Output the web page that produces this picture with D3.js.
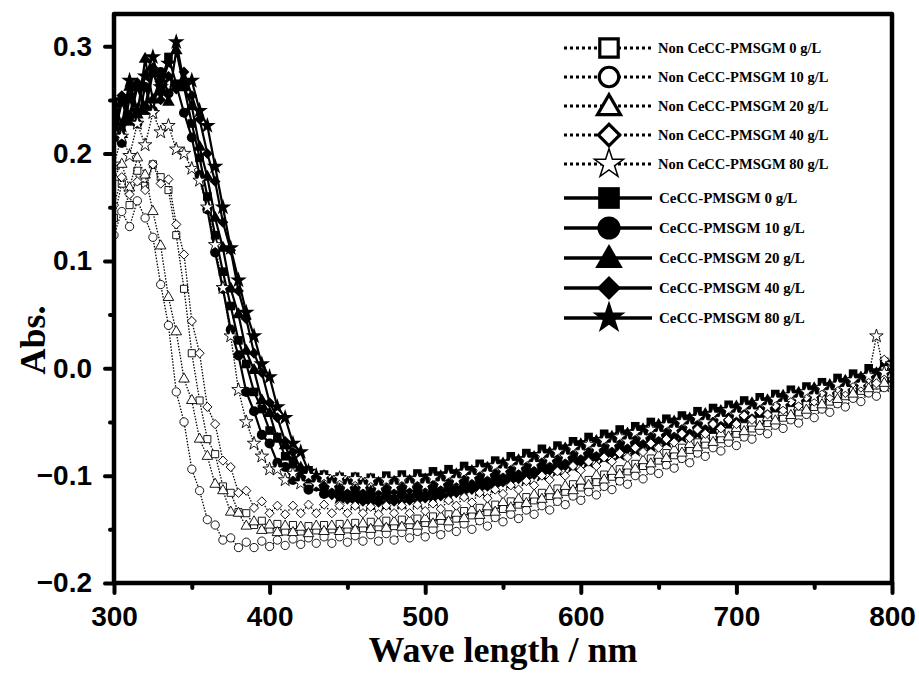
<!DOCTYPE html>
<html lang="en">
<head>
<meta charset="UTF-8">
<title>Abs. vs wave length</title>
<style>
  body { margin: 0; background: #fff; }
  svg { display: block; }
  .tick text { font-family: "Liberation Sans", Arial, sans-serif; font-weight: bold; font-size: 28px; fill: #000; }
  .title { font-family: "Liberation Serif", "Times New Roman", serif; font-weight: bold; font-size: 36px; }
  .leg { font-family: "Liberation Serif", "Times New Roman", serif; font-weight: bold; }
</style>
</head>
<body>
<div id="chart"></div>
<script src="https://cdnjs.cloudflare.com/ajax/libs/d3/7.8.5/d3.min.js"></script>
<script>
// wavelength grid (nm)
const wavelength = [
  300,305,310,315,320,325,330,335,340,345,
  350,355,360,365,370,375,380,385,390,395,
  400,405,410,415,420,425,430,435,440,445,
  450,455,460,465,470,475,480,485,490,495,
  500,505,510,515,520,525,530,535,540,545,
  550,555,560,565,570,575,580,585,590,595,
  600,605,610,615,620,625,630,635,640,645,
  650,655,660,665,670,675,680,685,690,695,
  700,705,710,715,720,725,730,735,740,745,
  750,755,760,765,770,775,780,785,790,795,
  800
];

// CeCC-PMSGM (filled symbols, solid lines)
const cecc0 = [
  0.215,0.248,0.230,0.262,0.240,0.275,0.258,0.290,0.265,0.262,
  0.228,0.196,0.160,0.124,0.090,0.058,0.026,0.004,-0.022,-0.038,
  -0.058,-0.064,-0.082,-0.086,-0.098,-0.095,-0.104,-0.099,-0.106,-0.101,
  -0.107,-0.101,-0.108,-0.102,-0.106,-0.100,-0.105,-0.099,-0.104,-0.098,
  -0.102,-0.096,-0.100,-0.094,-0.098,-0.091,-0.095,-0.089,-0.092,-0.086,
  -0.089,-0.082,-0.086,-0.079,-0.082,-0.075,-0.079,-0.072,-0.075,-0.068,
  -0.071,-0.064,-0.068,-0.061,-0.064,-0.057,-0.061,-0.054,-0.057,-0.050,
  -0.054,-0.047,-0.050,-0.044,-0.047,-0.040,-0.044,-0.037,-0.040,-0.034,
  -0.037,-0.030,-0.034,-0.027,-0.031,-0.024,-0.027,-0.020,-0.024,-0.017,
  -0.020,-0.013,-0.017,-0.009,-0.013,-0.005,-0.009,0.000,-0.004,0.006,
  0.004
];
const cecc10 = [
  0.232,0.210,0.252,0.228,0.262,0.240,0.276,0.256,0.264,0.238,
  0.215,0.180,0.148,0.108,0.074,0.036,0.012,-0.022,-0.040,-0.062,
  -0.070,-0.088,-0.092,-0.104,-0.104,-0.113,-0.110,-0.117,-0.113,-0.119,
  -0.114,-0.120,-0.115,-0.121,-0.114,-0.119,-0.113,-0.118,-0.112,-0.117,
  -0.110,-0.115,-0.108,-0.112,-0.105,-0.110,-0.103,-0.107,-0.100,-0.104,
  -0.096,-0.100,-0.093,-0.097,-0.089,-0.093,-0.085,-0.089,-0.082,-0.085,
  -0.077,-0.081,-0.074,-0.077,-0.070,-0.073,-0.066,-0.070,-0.062,-0.066,
  -0.058,-0.062,-0.055,-0.058,-0.051,-0.055,-0.048,-0.051,-0.044,-0.047,
  -0.041,-0.044,-0.037,-0.040,-0.034,-0.037,-0.030,-0.033,-0.027,-0.030,
  -0.023,-0.026,-0.019,-0.022,-0.016,-0.018,-0.012,-0.015,-0.008,-0.011,
  -0.005
];
const cecc20 = [
  0.246,0.218,0.262,0.236,0.288,0.250,0.270,0.248,0.296,0.262,
  0.244,0.206,0.178,0.140,0.112,0.074,0.050,0.016,-0.002,-0.030,
  -0.042,-0.066,-0.072,-0.090,-0.093,-0.104,-0.102,-0.111,-0.106,-0.113,
  -0.107,-0.114,-0.108,-0.115,-0.107,-0.113,-0.106,-0.112,-0.105,-0.111,
  -0.104,-0.109,-0.101,-0.106,-0.099,-0.103,-0.096,-0.100,-0.093,-0.097,
  -0.089,-0.094,-0.086,-0.090,-0.083,-0.086,-0.079,-0.083,-0.075,-0.079,
  -0.071,-0.075,-0.068,-0.071,-0.064,-0.068,-0.061,-0.064,-0.057,-0.060,
  -0.053,-0.056,-0.050,-0.053,-0.047,-0.049,-0.043,-0.046,-0.040,-0.042,
  -0.036,-0.039,-0.033,-0.035,-0.030,-0.032,-0.026,-0.029,-0.023,-0.025,
  -0.019,-0.022,-0.016,-0.018,-0.012,-0.015,-0.009,-0.011,-0.005,-0.008,
  0.000
];
const cecc40 = [
  0.224,0.254,0.236,0.266,0.244,0.280,0.250,0.272,0.260,0.276,
  0.254,0.232,0.200,0.174,0.136,0.110,0.072,0.046,0.014,-0.004,
  -0.032,-0.046,-0.068,-0.078,-0.094,-0.098,-0.110,-0.110,-0.118,-0.116,
  -0.122,-0.117,-0.124,-0.118,-0.125,-0.119,-0.124,-0.118,-0.123,-0.117,
  -0.121,-0.115,-0.119,-0.112,-0.116,-0.109,-0.113,-0.106,-0.110,-0.103,
  -0.106,-0.099,-0.103,-0.096,-0.099,-0.092,-0.095,-0.088,-0.091,-0.084,
  -0.087,-0.080,-0.083,-0.076,-0.079,-0.072,-0.075,-0.068,-0.071,-0.064,
  -0.067,-0.061,-0.063,-0.057,-0.059,-0.053,-0.056,-0.049,-0.052,-0.046,
  -0.048,-0.042,-0.045,-0.039,-0.041,-0.035,-0.038,-0.031,-0.034,-0.028,
  -0.030,-0.024,-0.027,-0.020,-0.023,-0.017,-0.019,-0.012,-0.015,-0.008,
  -0.006
];
const cecc80 = [
  0.250,0.226,0.268,0.240,0.272,0.290,0.262,0.284,0.304,0.266,
  0.268,0.240,0.226,0.188,0.150,0.112,0.082,0.052,0.030,0.004,
  -0.008,-0.036,-0.046,-0.070,-0.078,-0.096,-0.100,-0.112,-0.112,-0.120,
  -0.119,-0.125,-0.120,-0.126,-0.121,-0.126,-0.120,-0.125,-0.119,-0.124,
  -0.117,-0.122,-0.115,-0.119,-0.112,-0.116,-0.109,-0.113,-0.106,-0.110,
  -0.102,-0.106,-0.099,-0.103,-0.095,-0.099,-0.092,-0.095,-0.088,-0.091,
  -0.084,-0.087,-0.080,-0.083,-0.076,-0.080,-0.073,-0.076,-0.069,-0.072,
  -0.065,-0.068,-0.062,-0.064,-0.058,-0.061,-0.054,-0.057,-0.051,-0.053,
  -0.047,-0.049,-0.043,-0.046,-0.040,-0.042,-0.036,-0.039,-0.033,-0.035,
  -0.029,-0.031,-0.025,-0.028,-0.022,-0.024,-0.018,-0.020,-0.014,-0.016,
  -0.010
];

// Non CeCC-PMSGM (open symbols, dotted lines)
const non0 = [
  0.140,0.172,0.152,0.184,0.170,0.190,0.178,0.166,0.124,0.074,
  0.014,-0.030,-0.066,-0.080,-0.110,-0.116,-0.134,-0.135,-0.146,-0.142,
  -0.150,-0.145,-0.152,-0.146,-0.152,-0.147,-0.151,-0.146,-0.150,-0.145,
  -0.150,-0.144,-0.149,-0.143,-0.148,-0.142,-0.147,-0.141,-0.146,-0.140,
  -0.144,-0.138,-0.142,-0.136,-0.140,-0.133,-0.137,-0.130,-0.134,-0.127,
  -0.131,-0.124,-0.127,-0.120,-0.123,-0.116,-0.119,-0.112,-0.115,-0.108,
  -0.111,-0.104,-0.106,-0.099,-0.101,-0.094,-0.096,-0.089,-0.091,-0.084,
  -0.086,-0.079,-0.081,-0.074,-0.076,-0.069,-0.071,-0.064,-0.066,-0.059,
  -0.061,-0.054,-0.056,-0.049,-0.051,-0.044,-0.046,-0.039,-0.041,-0.034,
  -0.036,-0.029,-0.031,-0.024,-0.026,-0.019,-0.021,-0.014,-0.016,-0.009,
  -0.008
];
const non10 = [
  0.124,0.146,0.132,0.156,0.140,0.122,0.078,0.040,-0.022,-0.050,
  -0.094,-0.114,-0.141,-0.146,-0.160,-0.158,-0.167,-0.162,-0.167,-0.161,
  -0.166,-0.160,-0.165,-0.159,-0.164,-0.158,-0.163,-0.157,-0.163,-0.157,
  -0.162,-0.156,-0.161,-0.155,-0.161,-0.154,-0.160,-0.153,-0.158,-0.152,
  -0.157,-0.150,-0.155,-0.148,-0.152,-0.145,-0.150,-0.142,-0.147,-0.139,
  -0.143,-0.136,-0.140,-0.132,-0.136,-0.128,-0.132,-0.124,-0.127,-0.119,
  -0.123,-0.115,-0.118,-0.110,-0.113,-0.105,-0.108,-0.100,-0.103,-0.095,
  -0.098,-0.090,-0.093,-0.084,-0.088,-0.079,-0.082,-0.074,-0.077,-0.069,
  -0.072,-0.064,-0.066,-0.058,-0.061,-0.053,-0.056,-0.048,-0.051,-0.043,
  -0.046,-0.038,-0.041,-0.033,-0.036,-0.028,-0.031,-0.023,-0.026,-0.018,
  -0.016
];
const non20 = [
  0.178,0.190,0.168,0.196,0.180,0.146,0.114,0.066,0.034,-0.010,
  -0.030,-0.066,-0.082,-0.108,-0.114,-0.134,-0.135,-0.147,-0.143,-0.151,
  -0.146,-0.153,-0.147,-0.153,-0.148,-0.154,-0.147,-0.152,-0.147,-0.152,
  -0.146,-0.151,-0.145,-0.150,-0.144,-0.149,-0.143,-0.148,-0.142,-0.147,
  -0.140,-0.145,-0.138,-0.143,-0.135,-0.140,-0.132,-0.137,-0.129,-0.134,
  -0.125,-0.130,-0.122,-0.126,-0.118,-0.122,-0.114,-0.118,-0.110,-0.114,
  -0.105,-0.109,-0.100,-0.104,-0.096,-0.099,-0.091,-0.094,-0.086,-0.089,
  -0.081,-0.084,-0.076,-0.079,-0.071,-0.074,-0.066,-0.069,-0.061,-0.064,
  -0.056,-0.059,-0.051,-0.054,-0.046,-0.049,-0.041,-0.044,-0.036,-0.039,
  -0.031,-0.034,-0.026,-0.029,-0.021,-0.024,-0.016,-0.019,-0.011,-0.014,
  -0.006
];
const non40 = [
  0.152,0.178,0.162,0.174,0.166,0.190,0.172,0.176,0.134,0.106,
  0.044,0.014,-0.036,-0.052,-0.086,-0.092,-0.116,-0.114,-0.130,-0.124,
  -0.135,-0.128,-0.136,-0.128,-0.135,-0.127,-0.135,-0.127,-0.135,-0.128,
  -0.135,-0.128,-0.135,-0.129,-0.136,-0.128,-0.135,-0.128,-0.135,-0.127,
  -0.133,-0.126,-0.131,-0.123,-0.128,-0.120,-0.125,-0.116,-0.121,-0.113,
  -0.117,-0.109,-0.113,-0.105,-0.109,-0.100,-0.104,-0.096,-0.100,-0.091,
  -0.095,-0.087,-0.091,-0.083,-0.087,-0.079,-0.083,-0.074,-0.078,-0.070,
  -0.074,-0.066,-0.069,-0.061,-0.065,-0.057,-0.061,-0.052,-0.056,-0.048,
  -0.052,-0.044,-0.048,-0.040,-0.043,-0.035,-0.039,-0.031,-0.035,-0.027,
  -0.031,-0.023,-0.027,-0.019,-0.023,-0.014,-0.018,-0.010,-0.014,0.008,
  0.002
];
const non80 = [
  0.190,0.216,0.198,0.228,0.208,0.238,0.220,0.226,0.204,0.200,
  0.186,0.175,0.150,0.115,0.075,0.030,-0.020,-0.050,-0.070,-0.082,
  -0.094,-0.094,-0.104,-0.098,-0.107,-0.100,-0.108,-0.101,-0.109,-0.102,
  -0.110,-0.103,-0.110,-0.104,-0.111,-0.104,-0.110,-0.103,-0.109,-0.103,
  -0.109,-0.102,-0.107,-0.100,-0.104,-0.097,-0.101,-0.094,-0.098,-0.091,
  -0.095,-0.088,-0.092,-0.085,-0.089,-0.081,-0.085,-0.078,-0.082,-0.074,
  -0.078,-0.071,-0.075,-0.067,-0.071,-0.064,-0.068,-0.060,-0.064,-0.057,
  -0.061,-0.053,-0.057,-0.050,-0.054,-0.046,-0.050,-0.043,-0.047,-0.039,
  -0.043,-0.036,-0.040,-0.032,-0.036,-0.029,-0.033,-0.025,-0.029,-0.022,
  -0.026,-0.018,-0.022,-0.015,-0.019,-0.011,-0.015,-0.007,0.030,-0.004,
  0.004
];

const openNames = ["Non CeCC-PMSGM 0 g/L","Non CeCC-PMSGM 10 g/L","Non CeCC-PMSGM 20 g/L","Non CeCC-PMSGM 40 g/L","Non CeCC-PMSGM 80 g/L"];
const filledNames = ["CeCC-PMSGM 0 g/L","CeCC-PMSGM 10 g/L","CeCC-PMSGM 20 g/L","CeCC-PMSGM 40 g/L","CeCC-PMSGM 80 g/L"];
const yMajor = [-0.2,-0.1,0.0,0.1,0.2,0.3];
const yMinor = [-0.15,-0.05,0.05,0.15,0.25];
const xMajor = [300,400,500,600,700,800];
const xMinor = [350,450,550,650,750];

const W = 919, H = 673;
const pLeft = 114, pRight = 892, pTop = 14, pBottom = 583;

const x = d3.scaleLinear().domain([300, 800]).range([pLeft, pRight]);
const y = d3.scaleLinear().domain([-0.2, 0.33]).range([pBottom, pTop]);

const shapes = [d3.symbolSquare, d3.symbolCircle, d3.symbolTriangle, "diamond", d3.symbolStar];
function symPath(i, size) {
  if (shapes[i] === "diamond") return d3.symbol(d3.symbolSquare, size)();
  return d3.symbol(shapes[i], size)();
}
function symRot(i) { return shapes[i] === "diamond" ? " rotate(45)" : ""; }

const filledSeries = [cecc0, cecc10, cecc20, cecc40, cecc80];
const openSeries = [non0, non10, non20, non40, non80];

const svg = d3.select("#chart").append("svg")
  .attr("width", W).attr("height", H);

svg.append("defs").append("clipPath").attr("id", "plotclip")
  .append("rect").attr("x", pLeft).attr("y", pTop)
  .attr("width", pRight - pLeft).attr("height", pBottom - pTop);

const plot = svg.append("g").attr("clip-path", "url(#plotclip)");
const line = d3.line().x((d, i) => x(wavelength[i])).y(d => y(d));

const filledSizes = [74, 80, 70, 58, 86];
const openSizes = [50, 54, 48, 42, 56];

// filled series first
filledSeries.forEach((vals, si) => {
  plot.append("path").attr("d", line(vals))
    .attr("fill", "none").attr("stroke", "#000").attr("stroke-width", 2.2);
  plot.append("g").selectAll("path").data(vals).join("path")
    .attr("d", symPath(si, filledSizes[si]))
    .attr("transform", (d, i) => `translate(${x(wavelength[i])},${y(d)})${symRot(si)}`)
    .attr("fill", "#000");
});

// open series on top
openSeries.forEach((vals, si) => {
  plot.append("path").attr("d", line(vals))
    .attr("fill", "none").attr("stroke", "#000").attr("stroke-width", 1.3)
    .attr("stroke-dasharray", "1.5,1.5");
  plot.append("g").selectAll("path").data(vals).join("path")
    .attr("d", symPath(si, openSizes[si]))
    .attr("transform", (d, i) => `translate(${x(wavelength[i])},${y(d)})${symRot(si)}`)
    .attr("fill", "#fff").attr("stroke", "#000").attr("stroke-width", 0.9);
});

// axes
function styleAxis(g) {
  g.select(".domain").remove();
  g.selectAll(".tick line").attr("stroke", "#000").attr("stroke-width", 4).attr("stroke-linecap", "round");
}
svg.append("g").attr("transform", `translate(${pLeft},0)`)
  .call(d3.axisLeft(y).tickValues(yMajor).tickSize(9).tickPadding(13).tickFormat(d3.format(".1f")))
  .call(styleAxis);
svg.append("g").attr("transform", `translate(${pLeft},0)`)
  .call(d3.axisLeft(y).tickValues(yMinor).tickSize(4).tickFormat(""))
  .call(styleAxis);
svg.append("g").attr("transform", `translate(0,${pBottom})`)
  .call(d3.axisBottom(x).tickValues(xMajor).tickSize(10).tickPadding(13).tickFormat(d3.format("d")))
  .call(styleAxis);
svg.append("g").attr("transform", `translate(0,${pBottom})`)
  .call(d3.axisBottom(x).tickValues(xMinor).tickSize(5).tickFormat(""))
  .call(styleAxis);
svg.selectAll(".tick text").attr("fill", "#000");

// frame
svg.append("rect").attr("x", pLeft).attr("y", pTop)
  .attr("width", pRight - pLeft).attr("height", pBottom - pTop)
  .attr("fill", "none").attr("stroke", "#000").attr("stroke-width", 4.5)
  .attr("stroke-linejoin", "round");

// axis titles
svg.append("text").attr("class", "title")
  .attr("x", (pLeft + pRight) / 2).attr("y", 662)
  .attr("text-anchor", "middle").text("Wave length / nm");
svg.append("text").attr("class", "title")
  .attr("transform", "translate(45,340) rotate(-90)")
  .attr("text-anchor", "middle").text("Abs.");

// legend
const legend = svg.append("g");
const lx0 = 564, lx1 = 652, lsym = 609;
openNames.forEach((name, i) => {
  const ly = 48 + i * 29;
  legend.append("line").attr("x1", lx0).attr("x2", lx1).attr("y1", ly).attr("y2", ly)
    .attr("stroke", "#000").attr("stroke-width", 3).attr("stroke-dasharray", "3,3");
  const sz = [340, 300, 230, 230, 260][i];
  legend.append("path").attr("d", symPath(i, sz))
    .attr("transform", `translate(${lsym},${ly + (i === 2 ? 2 : 0)})${symRot(i)}`)
    .attr("fill", "#fff").attr("stroke", "#000").attr("stroke-width", i === 4 ? 1.5 : 3.2);
  legend.append("text").attr("class", "leg").attr("x", 658).attr("y", ly)
    .attr("dy", "0.35em").style("font-size", "14.5px").text(name);
});
filledNames.forEach((name, i) => {
  const ly = 198 + i * 30;
  legend.append("line").attr("x1", lx0).attr("x2", lx1).attr("y1", ly).attr("y2", ly)
    .attr("stroke", "#000").attr("stroke-width", 3.5);
  const sz = [470, 420, 330, 290, 340][i];
  legend.append("path").attr("d", symPath(i, sz))
    .attr("transform", `translate(${lsym},${ly + (i === 2 ? 2 : 0)})${symRot(i)}`)
    .attr("fill", "#000");
  legend.append("text").attr("class", "leg").attr("x", 659).attr("y", ly)
    .attr("dy", "0.35em").style("font-size", "15px").text(name);
});
</script>
</body>
</html>
